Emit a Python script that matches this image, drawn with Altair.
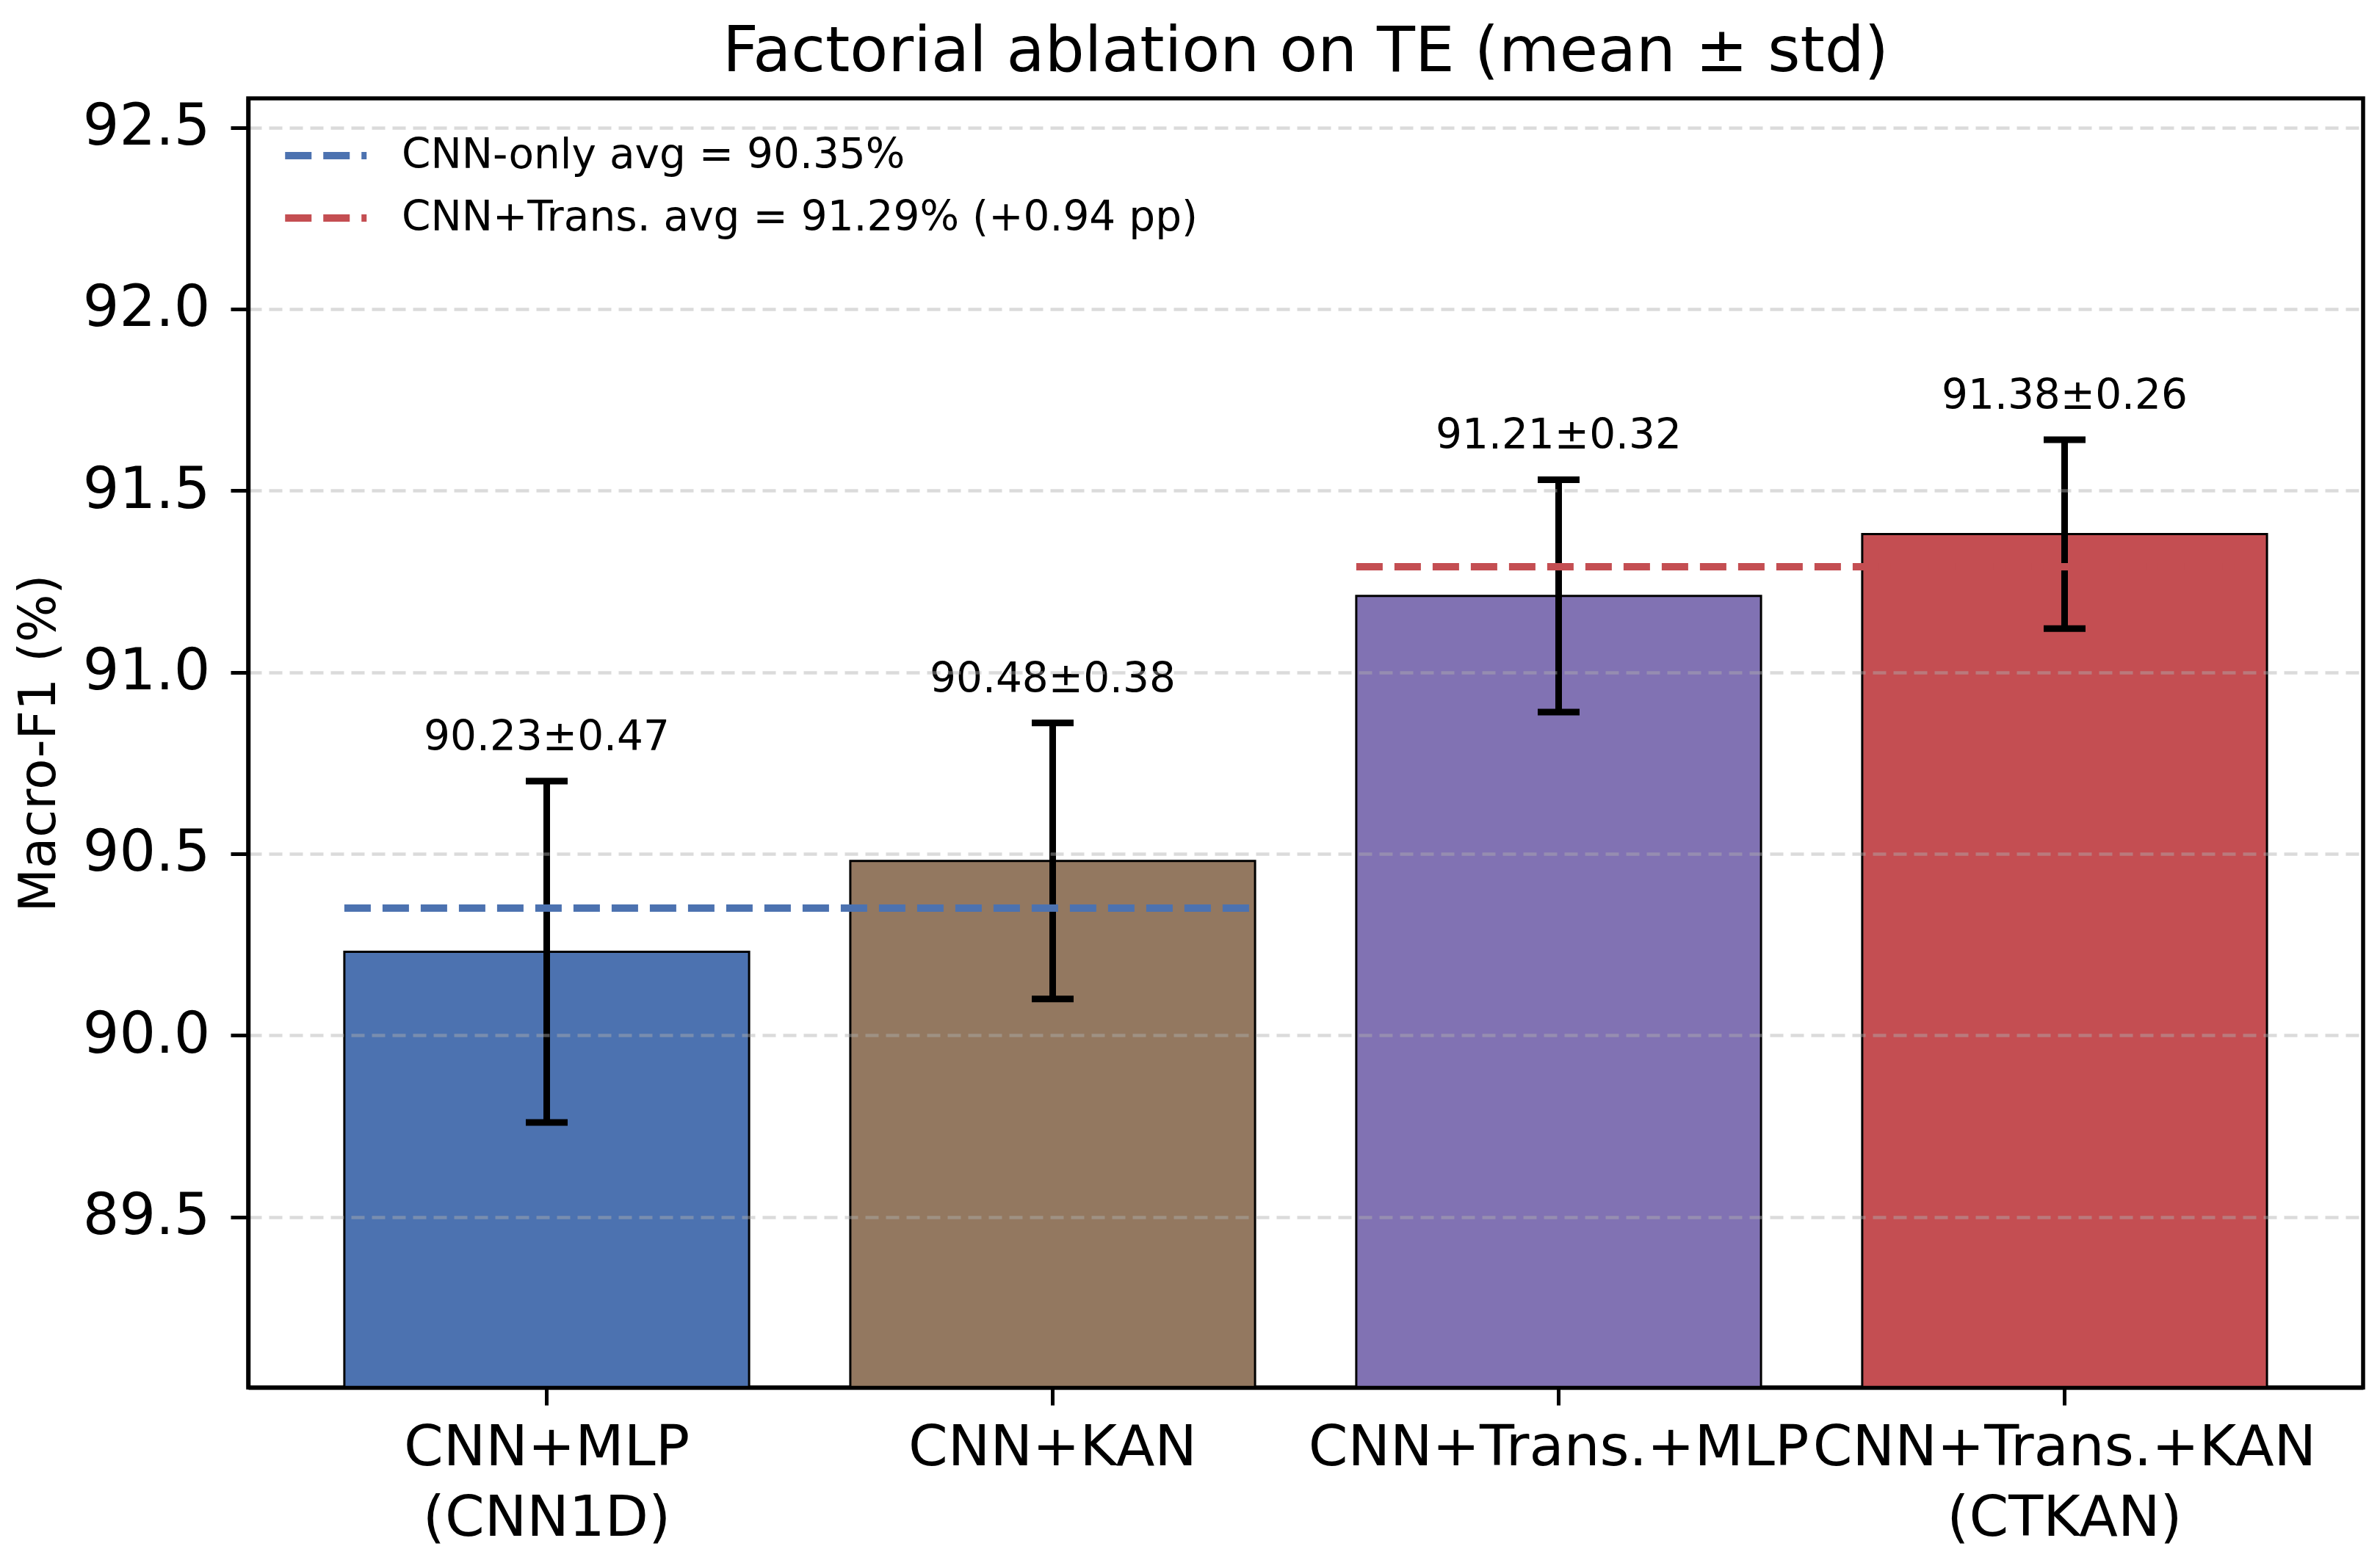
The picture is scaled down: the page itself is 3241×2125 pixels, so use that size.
import altair as alt
import pandas as pd

# --- values ---
MODELS = ["CNN+MLP\n(CNN1D)", "CNN+KAN", "CNN+Trans.+MLP", "CNN+Trans.+KAN\n(CTKAN)"]
MEANS = [90.23, 90.48, 91.21, 91.38]
STDS = [0.47, 0.38, 0.32, 0.26]

AVG_LABELS = ["CNN-only avg = 90.35%", "CNN+Trans. avg = 91.29% (+0.94 pp)"]
AVG_VALUES = [90.35, 91.29]
AVG_FROM = [MODELS[0], MODELS[2]]
AVG_TO = [MODELS[1], MODELS[3]]

Y_TICKS = [89.5, 90.0, 90.5, 91.0, 91.5, 92.0, 92.5]
Y_DOMAIN = [89.03, 92.58]

# styles
BAR_COLORS = ["#4C72B0", "#937860", "#8172B3", "#C44E52"]
AVG_COLORS = ["#4C72B0", "#C44E52"]
FONT = "DejaVu Sans"

bars_df = pd.DataFrame({"model": MODELS, "mean": MEANS, "std": STDS})
avg_df = pd.DataFrame({"label": AVG_LABELS, "avg": AVG_VALUES,
                       "start": AVG_FROM, "end": AVG_TO})

x_scale = alt.Scale(domain=MODELS, paddingInner=0.2, paddingOuter=0.19)
y_scale = alt.Scale(domain=Y_DOMAIN, nice=False, zero=False)

x_axis = alt.Axis(
    title=None, labelAngle=0, labelFontSize=77, labelFont=FONT,
    labelExpr="split(datum.label, '\\n')", labelLineHeight=96,
    labelPadding=20, labelOverlap=False, labelLimit=2000,
    tickSize=24, tickWidth=5, tickColor="black",
    domainColor="black", domainWidth=5.5, grid=False, zindex=1,
)
y_axis = alt.Axis(
    title="Macro-F1 (%)", titleFontSize=69, titleFont=FONT,
    titleFontWeight="normal", titlePadding=50, titleColor="black",
    values=Y_TICKS, format=".1f", labelFontSize=78, labelFont=FONT,
    labelPadding=28, labelColor="black",
    tickSize=24, tickWidth=5, tickColor="black",
    domainColor="black", domainWidth=5.5,
    grid=True, gridColor="#b0b0b0", gridOpacity=0.45, gridWidth=4.5,
    gridDash=[18, 10], zindex=1,
)

base = alt.Chart(bars_df).transform_calculate(
    lo="datum.mean - datum.std",
    hi="datum.mean + datum.std",
    txt="format(datum.mean, '.2f') + '±' + format(datum.std, '.2f')",
)

bars = base.mark_bar(stroke="black", strokeWidth=3, clip=True).encode(
    x=alt.X("model:N", scale=x_scale, axis=x_axis, sort=MODELS),
    y=alt.Y("mean:Q", scale=y_scale, axis=y_axis),
    color=alt.Color("model:N", scale=alt.Scale(domain=MODELS, range=BAR_COLORS), legend=None),
)

err = base.mark_rule(color="black", strokeWidth=9).encode(
    x=alt.X("model:N", sort=MODELS),
    y="lo:Q",
    y2="hi:Q",
)

cap_lo = base.mark_tick(color="black", size=57, thickness=9, opacity=1).encode(
    x=alt.X("model:N", sort=MODELS), y="lo:Q")
cap_hi = base.mark_tick(color="black", size=57, thickness=9, opacity=1).encode(
    x=alt.X("model:N", sort=MODELS), y="hi:Q")

labels = base.mark_text(font=FONT, fontSize=56.5, color="black",
                        baseline="alphabetic", dy=-42).encode(
    x=alt.X("model:N", sort=MODELS), y="hi:Q", text="txt:N")

avg_lines = alt.Chart(avg_df).mark_rule(strokeWidth=10, strokeDash=[36, 16]).encode(
    x=alt.X("start:N", bandPosition=0, sort=MODELS),
    x2=alt.X2("end", bandPosition=1),
    y=alt.Y("avg:Q"),
    color=alt.Color(
        "label:N",
        scale=alt.Scale(domain=AVG_LABELS, range=AVG_COLORS),
        legend=alt.Legend(
            title=None, orient="none", legendX=45, legendY=45, padding=0,
            symbolType="M-1,0H3", symbolSize=3080, symbolStrokeWidth=10,
            symbolDash=[36, 16], labelOffset=98, labelFontSize=56.5,
            labelFont=FONT, labelColor="black", labelLimit=2000,
            rowPadding=23,
        ),
    ),
)

chart = alt.layer(bars, err, cap_lo, cap_hi, avg_lines, labels).resolve_scale(
    color="independent"
).properties(
    width=2880,
    height=1756,
    autosize=alt.AutoSizeParams(type="none"),
    padding={"left": 330, "top": 126, "right": 15, "bottom": 220},
    title=alt.Title("Factorial ablation on TE (mean ± std)", fontSize=85, font=FONT,
                    fontWeight="normal", anchor="middle", frame="group",
                    baseline="alphabetic", offset=39, dy=87, color="black"),
).configure_view(stroke="black", strokeWidth=5.5)

chart.save("out.html", embed_options={"renderer": "svg", "actions": False})
